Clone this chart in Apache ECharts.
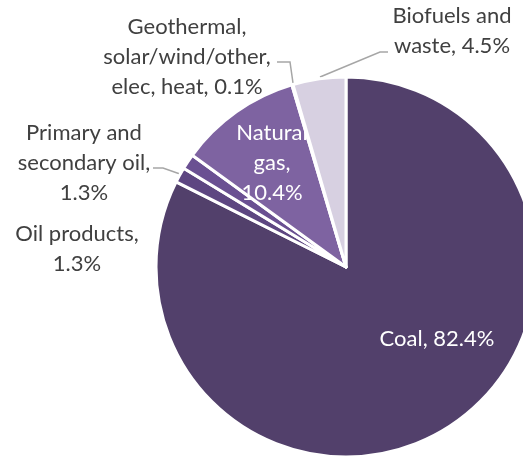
<!DOCTYPE html>
<html>
<head>
<meta charset="utf-8">
<script src="https://cdn.jsdelivr.net/npm/echarts@6/dist/echarts.min.js"></script>
<style>
html,body{margin:0;padding:0;background:#fff;}
#chart{width:523px;height:458px;}
</style>
</head>
<body>
<div id="chart"></div>
<script>
const categories = ["Coal", "Oil products", "Primary and secondary oil", "Natural gas", "Geothermal, solar/wind/other, elec, heat", "Biofuels and waste"];
const values = [82.4, 1.3, 1.3, 10.4, 0.1, 4.5];
const labelTexts = ["Coal, 82.4%", "Oil products,\n1.3%", "Primary and\nsecondary oil,\n1.3%", "Natural\ngas,\n10.4%", "Geothermal,\nsolar/wind/other,\nelec, heat, 0.1%", "Biofuels and\nwaste, 4.5%"];

const colors = ["#52406b", "#5d4681", "#6a5092", "#7e63a1", "#7e63a1", "#d7d0e1"];
const inside = [true, false, false, true, false, false];
// label placement (centre of text block) and leader lines
const labelPos = [
  {x: 437, y: 339},
  {x: 77, y: 249},
  {x: 84, y: 163, line: [[153,168],[163,168],[180,174]]},
  {x: 272, y: 163},
  {x: 187, y: 57, line: [[277,62],[290,62],[293,83]]},
  {x: 452, y: 31, line: [[388,52],[380,52],[320,77]]}
];

const chart = echarts.init(document.getElementById('chart'), null, {renderer: 'canvas'});
const data = categories.map((c, i) => ({
  name: c,
  value: values[i],
  itemStyle: {color: colors[i]},
  label: {
    formatter: labelTexts[i],
    color: inside[i] ? '#ffffff' : '#404040'
  },
  labelLine: {show: !!labelPos[i].line}
}));

chart.setOption({
  animation: false,
  series: [{
    type: 'pie',
    center: [346, 267],
    radius: 190,
    startAngle: 90,
    clockwise: true,
    avoidLabelOverlap: false,
    itemStyle: {borderColor: '#ffffff', borderWidth: 3},
    label: {
      show: true,
      position: 'outside',
      fontFamily: 'Lato',
      fontSize: 22,
      lineHeight: 30,
      align: 'center'
    },
    labelLine: {show: true, lineStyle: {color: '#a6a6a6', width: 1.5}},
    labelLayout: function (params) {
      const p = labelPos[params.dataIndex];
      const r = {x: p.x, y: p.y, align: 'center', verticalAlign: 'middle'};
      if (p.line) r.labelLinePoints = p.line;
      return r;
    },
    data: data
  }]
});
</script>
</body>
</html>
